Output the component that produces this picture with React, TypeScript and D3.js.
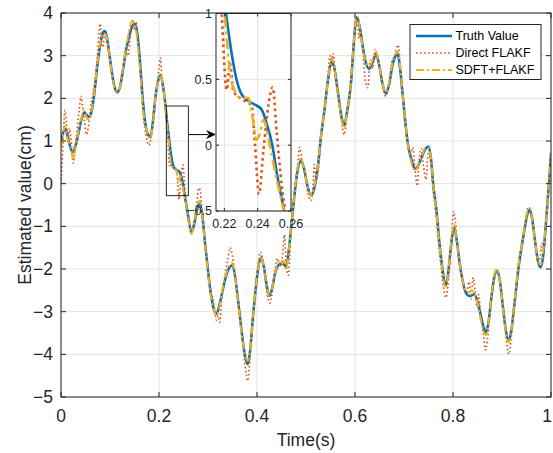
import React from 'react';
import * as d3 from 'd3';

const W = 553;
const H = 453;

const xTicks = [0, 0.2, 0.4, 0.6, 0.8, 1];
const yTicks = [-5, -4, -3, -2, -1, 0, 1, 2, 3, 4];
const insetXTicks = [0.22, 0.24, 0.26];
const insetYTicks = [-0.5, 0, 0.5, 1];
const legendLabels = ['Truth Value', 'Direct FLAKF', 'SDFT+FLAKF'];
const xLabel = 'Time(s)';
const yLabel = 'Estimated value(cm)';
const zoomBoxX = [0.215, 0.26];
const zoomBoxY = [-0.28, 1.82];
const arrowY = 1.15;

const truth: [number, number][] = [
  [0.000, 1.00], [0.004, 1.18], [0.0086, 1.29], [0.013, 1.15], [0.018, 0.90], [0.0242, 0.73],
  [0.030, 0.90], [0.036, 1.20], [0.042, 1.52], [0.048, 1.67], [0.053, 1.60], [0.058, 1.56],
  [0.063, 1.72], [0.068, 2.11], [0.074, 2.75], [0.080, 3.25], [0.085, 3.52], [0.0888, 3.58],
  [0.093, 3.48], [0.098, 3.10], [0.104, 2.60], [0.109, 2.28], [0.1145, 2.14], [0.120, 2.25],
  [0.127, 2.70], [0.133, 3.15], [0.138, 3.40], [0.145, 3.68], [0.151, 3.75], [0.156, 3.50],
  [0.161, 2.90], [0.166, 2.10], [0.171, 1.50], [0.176, 1.20], [0.1825, 1.09], [0.188, 1.50],
  [0.193, 2.05], [0.198, 2.40], [0.2035, 2.54], [0.208, 2.30], [0.213, 1.85], [0.2165, 1.45],
  [0.221, 1.00], [0.2241, 0.72], [0.2271, 0.51], [0.2302, 0.39], [0.2353, 0.33], [0.2394, 0.30],
  [0.2424, 0.27], [0.2455, 0.16], [0.2486, 0.01], [0.2516, -0.22], [0.2557, -0.49], [0.260, -0.80],
  [0.266, -1.14], [0.271, -1.00], [0.277, -0.65], [0.283, -0.44], [0.288, -0.70], [0.294, -1.40],
  [0.300, -2.04], [0.306, -2.60], [0.312, -2.95], [0.317, -3.06], [0.3236, -2.83], [0.330, -2.50],
  [0.336, -2.20], [0.342, -2.00], [0.349, -1.92], [0.355, -2.15], [0.361, -2.70], [0.367, -3.30],
  [0.373, -3.85], [0.378, -4.15], [0.381, -4.23], [0.386, -3.90], [0.392, -3.10], [0.398, -2.40],
  [0.403, -1.95], [0.4085, -1.73], [0.414, -1.95], [0.420, -2.40], [0.4255, -2.63], [0.431, -2.45],
  [0.437, -2.10], [0.446, -1.89], [0.453, -1.87], [0.4595, -1.95], [0.465, -1.55], [0.4697, -1.03],
  [0.476, -0.32], [0.482, 0.25], [0.490, 0.54], [0.496, 0.35], [0.503, -0.05], [0.5104, -0.28],
  [0.517, -0.10], [0.524, 0.38], [0.530, 1.05], [0.5375, 1.71], [0.544, 2.35], [0.5524, 2.85],
  [0.558, 2.70], [0.565, 2.15], [0.572, 1.60], [0.578, 1.36], [0.584, 1.70], [0.592, 2.38],
  [0.597, 3.20], [0.601, 3.75], [0.604, 3.90], [0.610, 3.65], [0.616, 3.20], [0.622, 2.85],
  [0.629, 2.69], [0.636, 2.85], [0.643, 3.04], [0.649, 2.80], [0.656, 2.35], [0.663, 2.11],
  [0.670, 2.35], [0.677, 2.80], [0.683, 3.00], [0.687, 3.04], [0.692, 2.70], [0.698, 2.00],
  [0.704, 1.30], [0.709, 0.85], [0.714, 0.62], [0.719, 0.42], [0.724, 0.35], [0.731, 0.48],
  [0.738, 0.68], [0.744, 0.82], [0.750, 0.87], [0.755, 0.60], [0.760, -0.05], [0.766, -0.60],
  [0.772, -1.35], [0.778, -1.95], [0.785, -2.39], [0.790, -2.10], [0.796, -1.45], [0.802, -1.03],
  [0.808, -1.35], [0.814, -1.90], [0.820, -2.30], [0.826, -2.55], [0.833, -2.63], [0.838, -2.62],
  [0.843, -2.59], [0.850, -2.76], [0.856, -3.05], [0.862, -3.35], [0.867, -3.49], [0.873, -3.20],
  [0.879, -2.60], [0.885, -2.15], [0.890, -2.04], [0.896, -2.30], [0.902, -2.90], [0.908, -3.45],
  [0.914, -3.69], [0.920, -3.35], [0.927, -2.65], [0.934, -1.95], [0.941, -1.42], [0.947, -1.00],
  [0.952, -0.70], [0.957, -0.62], [0.962, -0.85], [0.968, -1.40], [0.974, -1.85], [0.979, -1.96],
  [0.984, -1.70], [0.989, -1.03], [0.995, -0.10], [1.000, 0.70],
];

const direct: [number, number][] = [
  [0.000, 0.00], [0.004, 0.90], [0.008, 1.72], [0.011, 1.40], [0.014, 0.95], [0.017, 1.30],
  [0.020, 1.10], [0.025, 0.48], [0.029, 0.85], [0.033, 1.30], [0.037, 1.70], [0.041, 2.05],
  [0.044, 1.80], [0.048, 1.45], [0.052, 1.15], [0.056, 1.35], [0.060, 1.75], [0.065, 2.10],
  [0.070, 2.50], [0.075, 3.10], [0.080, 3.75], [0.083, 3.30], [0.086, 3.20], [0.089, 3.55],
  [0.093, 3.35], [0.098, 3.00], [0.104, 2.55], [0.109, 2.25], [0.114, 2.15], [0.120, 2.25],
  [0.127, 2.80], [0.133, 3.15], [0.137, 3.00], [0.142, 3.55], [0.146, 3.85], [0.150, 3.60],
  [0.153, 3.80], [0.158, 3.20], [0.163, 2.40], [0.168, 1.60], [0.174, 1.10], [0.180, 0.90],
  [0.185, 1.20], [0.191, 1.90], [0.196, 2.30], [0.200, 2.70], [0.203, 2.95], [0.206, 2.40],
  [0.210, 2.10], [0.214, 1.70], [0.2184, 0.99], [0.2214, 0.42], [0.2234, 0.62], [0.2254, 0.41],
  [0.2304, 0.35], [0.2364, 0.30], [0.2384, 0.00], [0.2408, -0.37], [0.2434, -0.05], [0.2464, 0.30],
  [0.249, 0.44], [0.2514, 0.10], [0.2544, -0.30], [0.2564, -0.49], [0.260, -0.85], [0.266, -1.10],
  [0.271, -0.90], [0.277, -0.45], [0.281, -0.10], [0.284, -0.15], [0.287, -0.55], [0.293, -1.35],
  [0.300, -2.00], [0.306, -2.50], [0.312, -2.80], [0.317, -3.20], [0.321, -3.10], [0.324, -3.25],
  [0.328, -2.70], [0.334, -2.20], [0.340, -1.80], [0.345, -1.50], [0.350, -1.70], [0.356, -2.20],
  [0.362, -2.80], [0.368, -3.40], [0.374, -4.10], [0.378, -4.45], [0.381, -4.62], [0.385, -4.20],
  [0.390, -3.30], [0.396, -2.50], [0.402, -1.90], [0.407, -1.60], [0.411, -1.75], [0.416, -2.15],
  [0.421, -2.60], [0.426, -2.80], [0.431, -2.55], [0.437, -2.00], [0.442, -1.75], [0.447, -1.95],
  [0.452, -1.70], [0.456, -1.20], [0.460, -1.95], [0.464, -2.15], [0.468, -1.40], [0.472, -0.70],
  [0.477, -0.10], [0.482, 0.35], [0.487, 0.85], [0.491, 0.60], [0.496, 0.40], [0.500, 0.10],
  [0.505, -0.30], [0.510, -0.40], [0.514, -0.10], [0.517, 0.45], [0.521, 0.10], [0.526, 0.40],
  [0.531, 1.10], [0.538, 1.75], [0.544, 2.40], [0.549, 3.00], [0.552, 2.75], [0.555, 3.05],
  [0.560, 2.60], [0.566, 2.05], [0.572, 1.50], [0.578, 1.15], [0.584, 1.65], [0.590, 2.30],
  [0.595, 3.00], [0.600, 3.65], [0.604, 3.90], [0.608, 3.40], [0.612, 3.60], [0.617, 3.00],
  [0.621, 2.40], [0.626, 2.25], [0.631, 2.90], [0.636, 2.70], [0.641, 3.15], [0.645, 2.95],
  [0.650, 2.70], [0.656, 2.30], [0.663, 2.05], [0.670, 2.40], [0.676, 2.90], [0.681, 3.00],
  [0.684, 3.15], [0.688, 3.25], [0.693, 2.70], [0.698, 2.00], [0.704, 1.20], [0.709, 0.80],
  [0.714, 0.70], [0.718, 0.85], [0.722, 0.40], [0.727, -0.05], [0.731, 0.60], [0.735, 0.82],
  [0.740, 0.40], [0.745, 0.10], [0.749, 0.70], [0.754, 0.55], [0.759, -0.10], [0.765, -0.70],
  [0.771, -1.45], [0.777, -2.10], [0.782, -2.55], [0.786, -2.67], [0.791, -2.20], [0.796, -1.50],
  [0.801, -0.65], [0.805, -0.90], [0.810, -1.50], [0.816, -2.00], [0.822, -2.40], [0.828, -2.55],
  [0.833, -2.30], [0.837, -2.70], [0.841, -2.20], [0.845, -2.50], [0.849, -2.90], [0.852, -2.60],
  [0.857, -3.10], [0.862, -3.50], [0.866, -3.90], [0.870, -3.70], [0.875, -3.10], [0.880, -2.60],
  [0.886, -2.10], [0.891, -2.05], [0.897, -2.40], [0.903, -3.00], [0.908, -3.55], [0.914, -4.00],
  [0.919, -3.60], [0.925, -2.90], [0.931, -2.10], [0.937, -1.60], [0.943, -1.20], [0.948, -0.90],
  [0.953, -0.55], [0.958, -0.60], [0.962, -0.95], [0.967, -1.30], [0.972, -1.75], [0.977, -1.80],
  [0.981, -1.40], [0.985, -1.55], [0.990, -0.90], [0.995, -0.20], [1.000, 0.75],
];

const sdft: [number, number][] = [
  [0.000, 0.85], [0.004, 1.15], [0.008, 1.35], [0.012, 1.10], [0.017, 0.95], [0.021, 0.80],
  [0.025, 0.55], [0.030, 0.85], [0.036, 1.25], [0.042, 1.55], [0.047, 1.72], [0.052, 1.55],
  [0.057, 1.50], [0.063, 1.75], [0.068, 2.15], [0.074, 2.80], [0.080, 3.30], [0.085, 3.50],
  [0.089, 3.52], [0.093, 3.45], [0.098, 3.10], [0.104, 2.55], [0.109, 2.25], [0.114, 2.15],
  [0.120, 2.25], [0.127, 2.75], [0.134, 3.25], [0.140, 3.65], [0.145, 3.80], [0.150, 3.75],
  [0.155, 3.45], [0.160, 2.85], [0.165, 2.10], [0.170, 1.50], [0.176, 1.20], [0.182, 1.05],
  [0.188, 1.45], [0.193, 2.05], [0.198, 2.40], [0.203, 2.55], [0.208, 2.30], [0.213, 1.80],
  [0.2175, 1.25], [0.2205, 0.95], [0.2234, 0.55], [0.2264, 0.41], [0.2294, 0.36], [0.2344, 0.36],
  [0.2364, 0.25], [0.2394, 0.04], [0.2414, 0.09], [0.2434, 0.19], [0.2474, -0.01], [0.2514, -0.26],
  [0.2554, -0.49], [0.260, -0.85], [0.266, -1.18], [0.271, -1.00], [0.277, -0.60], [0.283, -0.40],
  [0.288, -0.70], [0.294, -1.45], [0.300, -2.10], [0.306, -2.65], [0.312, -2.95], [0.317, -3.10],
  [0.324, -2.85], [0.330, -2.45], [0.336, -2.15], [0.342, -1.95], [0.349, -1.85], [0.355, -2.15],
  [0.361, -2.75], [0.367, -3.35], [0.373, -3.85], [0.378, -4.10], [0.381, -4.15], [0.386, -3.90],
  [0.392, -3.10], [0.398, -2.40], [0.403, -1.95], [0.408, -1.70], [0.414, -1.95], [0.420, -2.40],
  [0.4255, -2.65], [0.431, -2.45], [0.437, -2.10], [0.443, -1.85], [0.449, -1.90], [0.455, -1.80],
  [0.4595, -2.00], [0.465, -1.55], [0.470, -1.00], [0.476, -0.30], [0.482, 0.30], [0.489, 0.60],
  [0.496, 0.35], [0.503, -0.05], [0.510, -0.30], [0.517, -0.05], [0.524, 0.40], [0.530, 1.05],
  [0.5375, 1.72], [0.544, 2.35], [0.5524, 2.95], [0.558, 2.70], [0.565, 2.10], [0.572, 1.55],
  [0.578, 1.30], [0.584, 1.70], [0.592, 2.40], [0.597, 3.25], [0.602, 3.85], [0.605, 3.92],
  [0.610, 3.60], [0.616, 3.15], [0.622, 2.85], [0.629, 2.75], [0.636, 2.90], [0.643, 3.10],
  [0.649, 2.80], [0.656, 2.35], [0.663, 2.15], [0.670, 2.40], [0.677, 2.85], [0.683, 3.05],
  [0.687, 3.10], [0.692, 2.75], [0.698, 2.00], [0.704, 1.30], [0.709, 0.80], [0.714, 0.55],
  [0.719, 0.35], [0.724, 0.30], [0.731, 0.50], [0.738, 0.70], [0.744, 0.85], [0.750, 0.85],
  [0.755, 0.60], [0.760, -0.05], [0.766, -0.65], [0.772, -1.40], [0.778, -2.00], [0.785, -2.45],
  [0.790, -2.10], [0.796, -1.40], [0.802, -0.95], [0.808, -1.35], [0.814, -1.90], [0.820, -2.30],
  [0.826, -2.50], [0.833, -2.55], [0.838, -2.50], [0.843, -2.55], [0.850, -2.80], [0.856, -3.15],
  [0.862, -3.45], [0.867, -3.55], [0.873, -3.20], [0.879, -2.60], [0.885, -2.10], [0.890, -2.00],
  [0.896, -2.30], [0.902, -2.90], [0.908, -3.50], [0.914, -3.72], [0.920, -3.35], [0.927, -2.60],
  [0.934, -1.90], [0.941, -1.40], [0.947, -0.95], [0.952, -0.65], [0.957, -0.60], [0.962, -0.85],
  [0.968, -1.40], [0.974, -1.85], [0.979, -1.90], [0.984, -1.60], [0.989, -1.00], [0.995, -0.10],
  [1.000, 0.65],
];

const COLORS = ['#0072BD', '#D95319', '#EDB120'];
const AX = '#262626';
const GRID = '#e3e3e3';
const FONT = 'Liberation Sans, Arial, Helvetica, sans-serif';

const fmt = (v: number) => (v < 0 ? '\u2212' + String(Math.abs(v)) : String(v));

export default function App() {
  const left = 61, right = 551, top = 13, bottom = 397;
  const x = d3.scaleLinear().domain([0, 1]).range([left, right]);
  const y = d3.scaleLinear().domain([-5, 4]).range([bottom, top]);

  const iL = 216, iR = 291, iT = 13.5, iB = 211;
  const ix = d3.scaleLinear().domain([0.215, 0.26]).range([iL, iR]);
  const iy = d3.scaleLinear().domain([-0.5, 1]).range([iB, iT]);

  const mk = (sx: any, sy: any) =>
    d3.line<[number, number]>().x(d => sx(d[0])).y(d => sy(d[1])).curve(d3.curveMonotoneX);
  const mainLine = mk(x, y);
  const insetLine = mk(ix, iy);

  const styles = [
    { sw: 2.5, dash: undefined as string | undefined },
    { sw: 1.6, dash: '1.6 2.4' },
    { sw: 2.0, dash: '8 3 2 3' },
  ];
  const series = [truth, direct, sdft];

  const tickLen = 5;
  const bx0 = x(zoomBoxX[0]), bx1 = x(zoomBoxX[1]);
  const by0 = y(zoomBoxY[1]), by1 = y(zoomBoxY[0]);
  const ay = y(arrowY);

  const lgX = 410, lgY = 24.5, lgW = 131, lgH = 55;

  return (
    <svg width={W} height={H} style={{ position: 'absolute', left: 0, top: 0, background: '#fff' }} fontFamily={FONT}>
      <defs>
        <clipPath id="mainClip"><rect x={left} y={top} width={right - left} height={bottom - top} /></clipPath>
        <clipPath id="insetClip"><rect x={iL} y={iT} width={iR - iL} height={iB - iT} /></clipPath>
      </defs>
      <rect x={0} y={0} width={W} height={H} fill="#fff" />
      {xTicks.map(t => (
        <line key={'gx' + t} x1={x(t)} x2={x(t)} y1={top} y2={bottom} stroke={GRID} strokeWidth={1} />
      ))}
      {yTicks.map(t => (
        <line key={'gy' + t} x1={left} x2={right} y1={y(t)} y2={y(t)} stroke={GRID} strokeWidth={1} />
      ))}
      <g clipPath="url(#mainClip)">
        {series.map((s, i) => (
          <path key={'s' + i} d={mainLine(s) || ''} fill="none" stroke={COLORS[i]} strokeWidth={styles[i].sw}
            strokeDasharray={styles[i].dash} strokeLinejoin="round" />
        ))}
      </g>
      <rect x={left} y={top} width={right - left} height={bottom - top} fill="none" stroke={AX} strokeWidth={1} />
      {xTicks.map(t => (
        <g key={'xt' + t}>
          <line x1={x(t)} x2={x(t)} y1={bottom} y2={bottom - tickLen} stroke={AX} />
          <line x1={x(t)} x2={x(t)} y1={top} y2={top + tickLen} stroke={AX} />
          <text x={Math.min(x(t), 547)} y={bottom + 25} fontSize={17.5} textAnchor="middle" fill={AX}>{fmt(t)}</text>
        </g>
      ))}
      {yTicks.map(t => (
        <g key={'yt' + t}>
          <line x1={left} x2={left + tickLen} y1={y(t)} y2={y(t)} stroke={AX} />
          <line x1={right} x2={right - tickLen} y1={y(t)} y2={y(t)} stroke={AX} />
          <text x={left - 8} y={y(t)} dy="0.35em" fontSize={17.5} textAnchor="end" fill={AX}>{fmt(t)}</text>
        </g>
      ))}
      <text x={(left + right) / 2} y={446} fontSize={17.5} textAnchor="middle" fill={AX}>{xLabel}</text>
      <text transform={`translate(31,${(top + bottom) / 2}) rotate(-90)`} fontSize={17.5} textAnchor="middle" fill={AX}>{yLabel}</text>

      <rect x={bx0} y={by0} width={bx1 - bx0} height={by1 - by0} fill="none" stroke={AX} strokeWidth={1} />
      <line x1={bx1} x2={iL - 8} y1={ay} y2={ay} stroke="#000" strokeWidth={1} />
      <path d={`M${iL},${ay} L${iL - 10},${ay - 4.5} L${iL - 7},${ay} L${iL - 10},${ay + 4.5} Z`} fill="#000" />

      <rect x={iL} y={iT} width={iR - iL} height={iB - iT} fill="#fff" />
      {insetXTicks.map(t => (
        <line key={'igx' + t} x1={ix(t)} x2={ix(t)} y1={iT} y2={iB} stroke={GRID} />
      ))}
      {insetYTicks.map(t => (
        <line key={'igy' + t} x1={iL} x2={iR} y1={iy(t)} y2={iy(t)} stroke={GRID} />
      ))}
      <g clipPath="url(#insetClip)">
        {series.map((s, i) => (
          <path key={'is' + i} d={insetLine(s) || ''} fill="none" stroke={COLORS[i]}
            strokeWidth={2.6}
            strokeDasharray={i === 1 ? '2.6 3.4' : i === 2 ? '11 4 3 4' : undefined} strokeLinejoin="round" />
        ))}
      </g>
      <rect x={iL} y={iT} width={iR - iL} height={iB - iT} fill="none" stroke={AX} strokeWidth={1} />
      {insetXTicks.map(t => (
        <g key={'ixt' + t}>
          <line x1={ix(t)} x2={ix(t)} y1={iB} y2={iB - 3} stroke={AX} />
          <line x1={ix(t)} x2={ix(t)} y1={iT} y2={iT + 3} stroke={AX} />
          <text x={ix(t)} y={iB + 17} fontSize={12.5} textAnchor="middle" fill={AX}>{String(t)}</text>
        </g>
      ))}
      {insetYTicks.map(t => (
        <g key={'iyt' + t}>
          <line x1={iL} x2={iL + 3} y1={iy(t)} y2={iy(t)} stroke={AX} />
          <line x1={iR} x2={iR - 3} y1={iy(t)} y2={iy(t)} stroke={AX} />
          <text x={iL - 4} y={iy(t)} dy="0.35em" fontSize={12.5} textAnchor="end" fill={AX}>{fmt(t)}</text>
        </g>
      ))}

      <rect x={lgX} y={lgY} width={lgW} height={lgH} fill="#fff" stroke={AX} strokeWidth={1} />
      {legendLabels.map((lab, i) => {
        const ly = lgY + 11.5 + i * 17;
        return (
          <g key={'lg' + i}>
            <line x1={lgX + 6} x2={lgX + 42} y1={ly} y2={ly} stroke={COLORS[i]} strokeWidth={styles[i].sw}
              strokeDasharray={styles[i].dash} />
            <text x={lgX + 45.5} y={ly} dy="0.35em" fontSize={12.5} fill="#000">{lab}</text>
          </g>
        );
      })}
    </svg>
  );
}
